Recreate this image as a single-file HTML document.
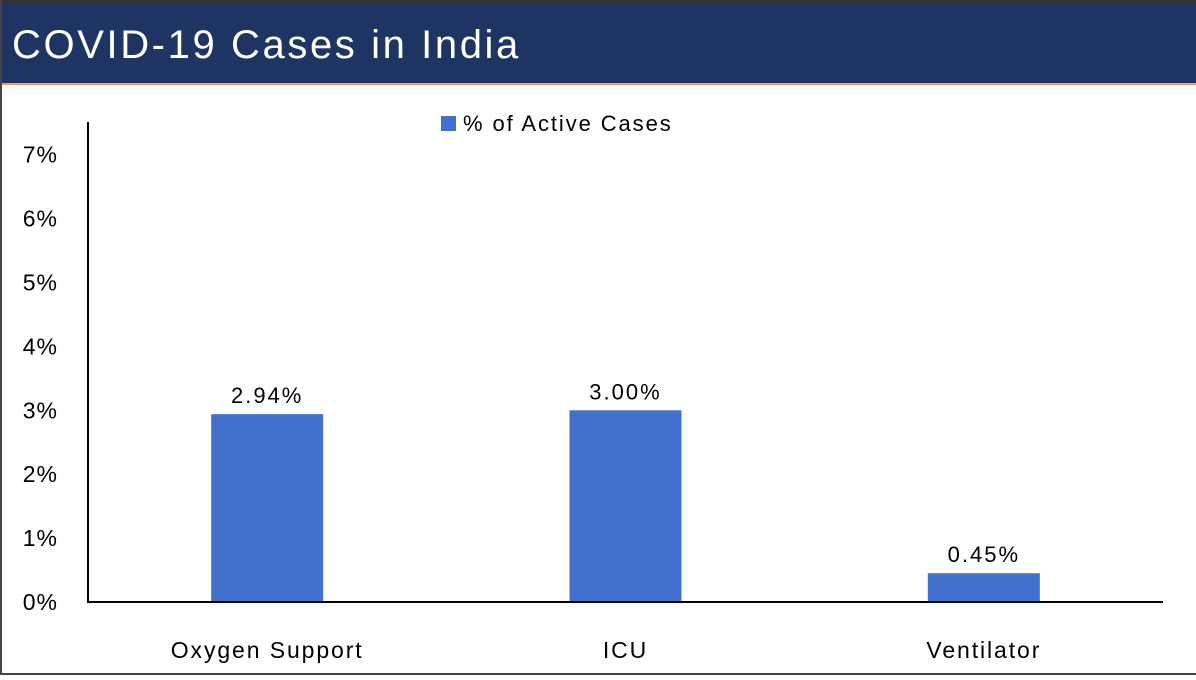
<!DOCTYPE html>
<html><head><meta charset="utf-8"><style>
body{margin:0;width:1196px;height:675px;overflow:hidden;background:#fff;font-family:"Liberation Sans",sans-serif}
</style></head><body>
<svg width="1196" height="675" xmlns="http://www.w3.org/2000/svg">
<rect x="0" y="0" width="1196" height="675" fill="#fff"/>
<rect x="0" y="0" width="1196" height="3" fill="#333"/>
<rect x="0" y="3" width="1196" height="80" fill="#1e3463"/>
<rect x="0" y="83" width="1196" height="2" fill="#f0a060"/>
<rect x="0" y="0" width="2" height="675" fill="#444"/>
<rect x="0" y="673" width="1196" height="2" fill="#444"/>
<text x="12" y="58" fill="#fff" font-size="40" letter-spacing="2.6">COVID-19 Cases in India</text>
<g id="plot"></g>
</svg>
<script>
const categories=["Oxygen Support","ICU","Ventilator"];
const values=[2.94,3.00,0.45];
const valueLabels=["2.94%","3.00%","0.45%"];
const yTicks=[0,1,2,3,4,5,6,7];
const NS="http://www.w3.org/2000/svg";
const g=document.getElementById('plot');
const x0=88,x1=1163,yBase=602,unit=63.9;
const y=v=>yBase-v*unit;
const band=(x1-x0)/categories.length;
const cx=i=>x0+band*(i+0.5);
function mk(t,a,txt){const e=document.createElementNS(NS,t);for(const k in a)e.setAttribute(k,a[k]);if(txt!==undefined)e.textContent=txt;g.appendChild(e);return e;}
yTicks.forEach(t=>{const e=mk('text',{x:58,y:y(t)+8,'text-anchor':'end','font-size':23,'letter-spacing':1,fill:'#000'},t+'%');

});
values.forEach((v,i)=>{
const r=mk('rect',{x:cx(i)-56,y:y(v),width:112,height:yBase-y(v),fill:'#4270cd'});


const l=mk('text',{x:cx(i),y:y(v)-11,'text-anchor':'middle','font-size':22,'letter-spacing':2,fill:'#000'},valueLabels[i]);


const c=mk('text',{x:cx(i),y:658,'text-anchor':'middle','font-size':23,'letter-spacing':1.9,fill:'#000'},categories[i]);


});
const ya=mk('line',{x1:x0,y1:122,x2:x0,y2:yBase+1,stroke:'#000','stroke-width':2});


const xa=mk('line',{x1:x0-1,y1:yBase,x2:x1,y2:yBase,stroke:'#000','stroke-width':2});


const ls=mk('rect',{x:441,y:116,width:15,height:15,fill:'#4270cd'});


const lt=mk('text',{x:463,y:131,'font-size':22,'letter-spacing':1.9,fill:'#000'},'% of Active Cases');


</script>
</body></html>
